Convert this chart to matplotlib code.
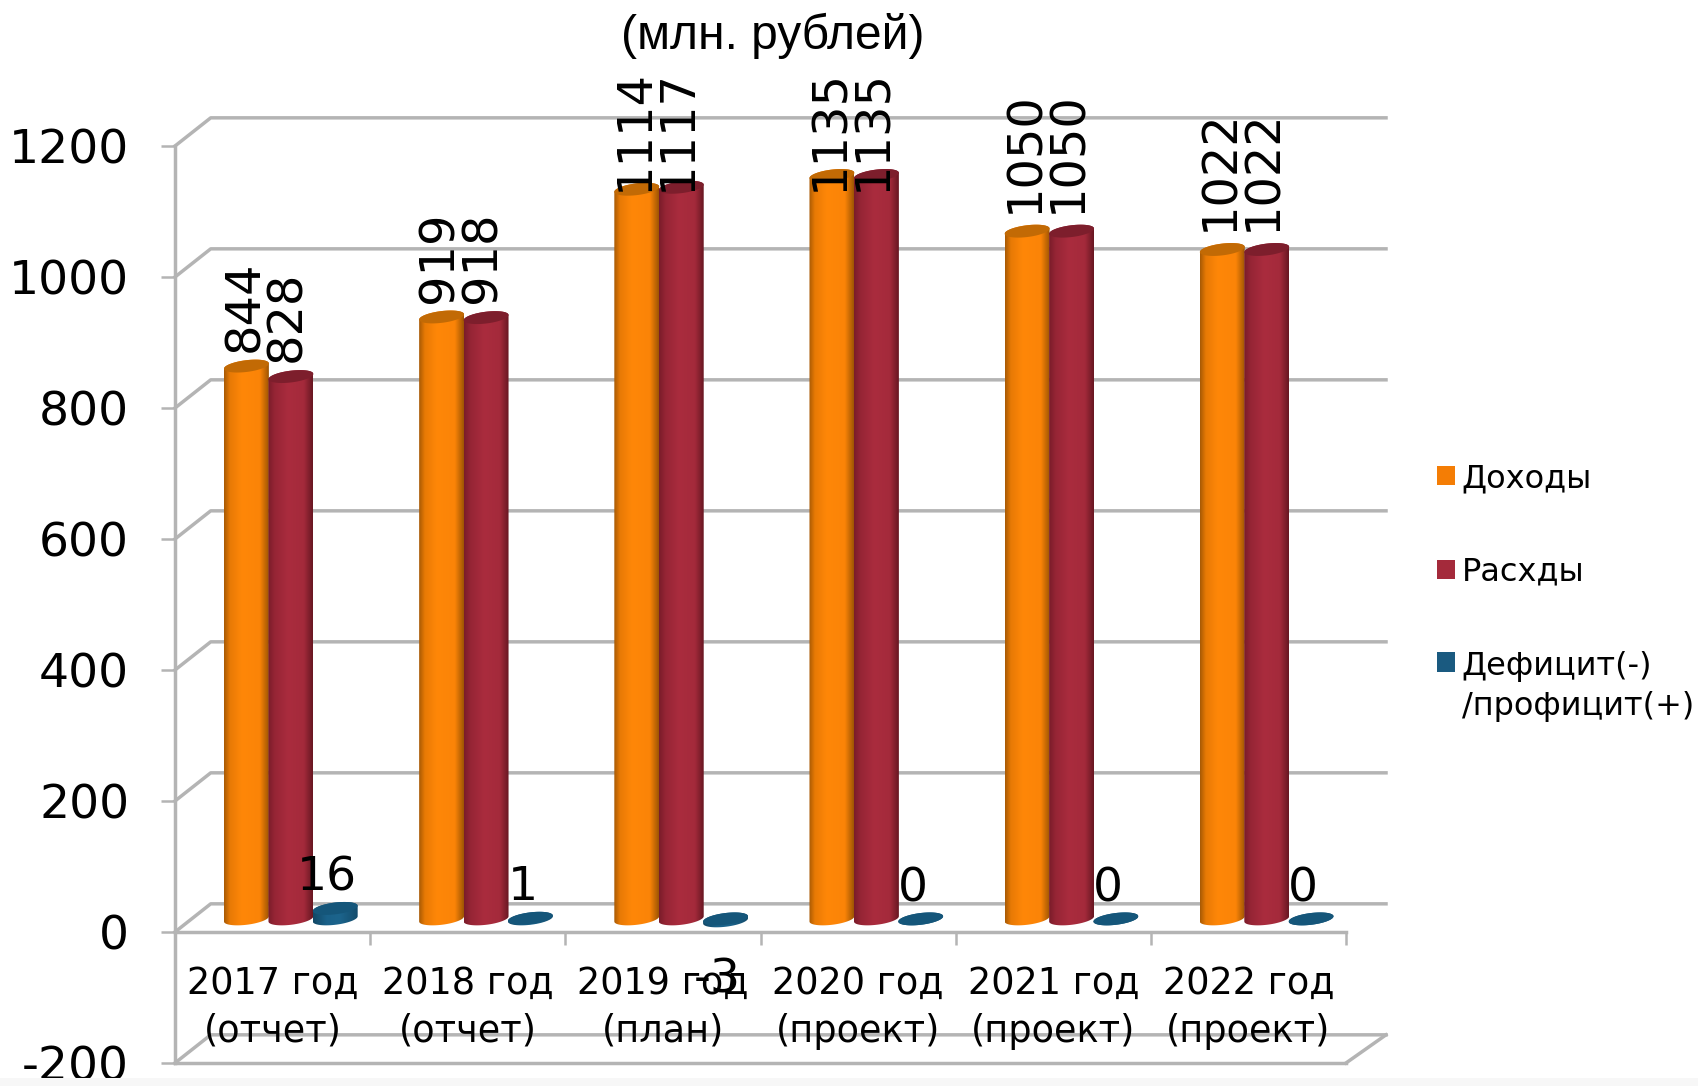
import numpy as np
import matplotlib.pyplot as plt
from matplotlib.colors import LinearSegmentedColormap
from matplotlib.legend_handler import HandlerPatch
from matplotlib.patches import Patch, Polygon, PathPatch, Rectangle
from matplotlib.path import Path

plt.rcParams['font.family'] = ['DejaVu Sans']

# Data
years = ['2017 год\n(отчет)', '2018 год\n(отчет)', '2019 год\n(план)',
         '2020 год\n(проект)', '2021 год\n(проект)', '2022 год\n(проект)']
income = [844, 919, 1114, 1135, 1050, 1022]
expense = [828, 918, 1117, 1135, 1050, 1022]
balance = [16, 1, -3, 0, 0, 0]
yticks = [-200, 0, 200, 400, 600, 800, 1000, 1200]
series_names = ['Доходы', 'Расхды', 'Дефицит(-)\n/профицит(+)']

# 3D look of the original: how far back the wall sits, where the bars stand
DEPTH_X = 0.183
DEPTH_Y = 43
RIGHT_END = 6.205
BASE = 20
BAR_W = 0.23
CAP_H = 9
CAP_TILT = 4
GREY = '#b4b4b4'

fig = plt.figure(figsize=(16.98, 10.86), dpi=100)
ax = fig.add_axes([175 / 1698, 1 - 1063 / 1086, (1346 - 175) / 1698, (1063 - 146) / 1086])
ax.set_xlim(0, 6)
ax.set_ylim(-200, 1200)
ax.patch.set_alpha(0)

# walls
for v in yticks:
    ax.plot([0, DEPTH_X, RIGHT_END], [v, v + DEPTH_Y, v + DEPTH_Y], color=GREY, lw=2.5,
            clip_on=False, zorder=1, solid_joinstyle='round')
ax.plot([6, RIGHT_END], [-200, -200 + DEPTH_Y], color=GREY, lw=2.5, clip_on=False, zorder=1)
ax.plot([0, 6], [-200, -200], color=GREY, lw=2.5, clip_on=False, zorder=1)


def cap_points(xc, y, n=60):
    t = np.linspace(0, 2 * np.pi, n)
    return np.column_stack([xc + BAR_W / 2 * np.cos(t),
                            y + CAP_H * np.sin(t) + CAP_TILT * np.cos(t)])


def cylinder(xc, value, colors, top_color):
    y0 = BASE
    y1 = BASE + value
    cmap = LinearSegmentedColormap.from_list('c', colors)
    grad = np.linspace(0, 1, 128)[None, :]
    im = ax.imshow(grad, cmap=cmap, aspect='auto', zorder=3, clip_on=True,
                   extent=[xc - BAR_W / 2, xc + BAR_W / 2, min(y0, y1) - CAP_H - CAP_TILT,
                           max(y0, y1) + CAP_H + CAP_TILT])
    t = np.linspace(0, np.pi, 40)
    low = min(y0, y1)
    high = max(y0, y1)
    lower = np.column_stack([xc - BAR_W / 2 * np.cos(t),
                             low - CAP_H * np.sin(t) - CAP_TILT * np.cos(t)])
    upper = np.column_stack([xc + BAR_W / 2 * np.cos(t),
                             high + CAP_H * np.sin(t) + CAP_TILT * np.cos(t)])
    outline = np.vstack([lower, upper, lower[:1]])
    clip = PathPatch(Path(outline), transform=ax.transData, fc='none', ec='none')
    ax.add_patch(clip)
    im.set_clip_path(clip)
    ax.add_patch(Polygon(cap_points(xc, high), closed=True, fc=top_color, ec='none', zorder=4))


orange_grad = [(0, '#a85a04'), (0.13, '#e87a05'), (0.4, '#ff8708'), (0.8, '#fb8407'), (1, '#9e5503')]
red_grad = [(0, '#7a1c2a'), (0.15, '#962535'), (0.45, '#aa2c3e'), (0.8, '#a42a3b'), (1, '#681722')]
blue_grad = [(0, '#124866'), (0.3, '#1a6189'), (0.6, '#1c648c'), (1, '#134c6c')]

for i in range(len(years)):
    cylinder(i + 0.366, income[i], orange_grad, '#c26a05')
    cylinder(i + 0.594, expense[i], red_grad, '#7d1e2c')
    cylinder(i + 0.821, balance[i], blue_grad, '#15567a')

# value labels
label_pad = [42, 42, 42, 42, 48, 48]
for i in range(len(years)):
    ax.text(i + 0.355, min(income[i] + label_pad[i], 1132), str(income[i]), rotation=90,
            ha='center', va='bottom', fontsize=34.5, color='black', zorder=6)
    ax.text(i + 0.575, min(expense[i] + label_pad[i], 1132), str(expense[i]), rotation=90,
            ha='center', va='bottom', fontsize=34.5, color='black', zorder=6)
    b = balance[i]
    by = b + 32 if b >= 0 else -108
    ax.text(i + 0.78, by, str(b), ha='center', va='bottom', fontsize=34,
            color='black', zorder=6)

# axes
for name in ['top', 'right']:
    ax.spines[name].set_visible(False)
ax.spines['left'].set_color(GREY)
ax.spines['left'].set_linewidth(2.5)
ax.spines['bottom'].set_position(('data', 0))
ax.spines['bottom'].set_color(GREY)
ax.spines['bottom'].set_linewidth(2.5)
ax.set_yticks(yticks)
ax.set_yticklabels([str(v) for v in yticks], fontsize=34)
ax.tick_params(axis='y', length=10, width=1.8, color=GREY, pad=23)
ax.set_xticks(range(7))
ax.set_xticklabels([])
ax.tick_params(axis='x', which='major', length=9, width=1.8, color=GREY, direction='out')
ax.set_xticks(np.arange(6) + 0.5, minor=True)
ax.set_xticklabels(years, minor=True, fontsize=26.4, linespacing=1.36)
ax.tick_params(axis='x', which='minor', length=0, pad=24)
for lab in ax.get_xticklabels(minor=True):
    lab.set_zorder(5)

fig.text(773 / 1698, 1 - 36 / 1086, '(млн. рублей)', family='Liberation Sans', fontsize=34.5,
         ha='center', va='center')


# two-line legend entry: square goes next to the first line
def top_square(legend, orig_handle, xdescent, ydescent, width, height, fontsize):
    return Rectangle((-xdescent, -ydescent + 18), width, height)


handles = [Patch(fc='#f47d05', ec='none'), Patch(fc='#a42a3b', ec='none'), Patch(fc='#1a5a80', ec='none')]
leg = fig.legend(handles, series_names, loc='upper left', bbox_to_anchor=(1437 / 1698, 1 - 463 / 1086),
                 frameon=False, fontsize=23, handlelength=0.55, handleheight=0.55, handletextpad=0.22,
                 labelspacing=1.97, borderpad=0, borderaxespad=0,
                 handler_map={handles[2]: HandlerPatch(patch_func=top_square)})
for txt in leg.get_texts():
    txt.set_linespacing(1.36)

# pale strip along the bottom edge of the screenshot
fig.patches.append(Rectangle((0, 0), 1, 8 / 1086, transform=fig.transFigure, fc='#f7f7f7', ec='none'))

fig.savefig('out.png', dpi=100)
